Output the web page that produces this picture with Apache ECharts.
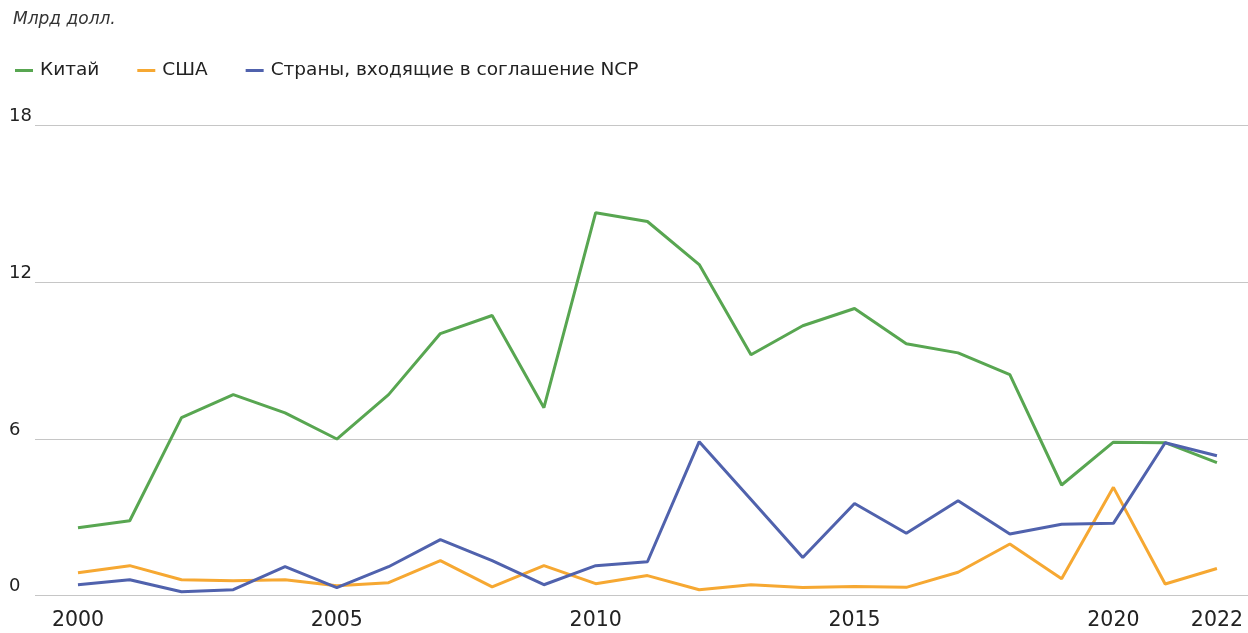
<!DOCTYPE html>
<html lang="ru">
<head>
    <meta charset="utf-8"/>
    <script src="https://cdn.jsdelivr.net/npm/echarts@6/dist/echarts.min.js"></script>
</head>
<body style="margin: 0; background: #fff">
<div id="container" style="width: 1248px;height:633px;"></div>
<script type="text/javascript">
    // данные (млрд долл.)
    var years = [2000, 2001, 2002, 2003, 2004, 2005, 2006, 2007, 2008, 2009, 2010,
        2011, 2012, 2013, 2014, 2015, 2016, 2017, 2018, 2019, 2020, 2021, 2022];
    var china = [2.6, 2.87, 6.82, 7.7, 7.0, 6.0, 7.7, 10.04, 10.73, 7.2, 14.67,
        14.33, 12.68, 9.23, 10.34, 11.0, 9.65, 9.3, 8.47, 4.24, 5.88, 5.86, 5.1];
    var usa = [0.88, 1.15, 0.61, 0.57, 0.61, 0.38, 0.5, 1.34, 0.34, 1.15, 0.46,
        0.77, 0.23, 0.42, 0.31, 0.35, 0.32, 0.9, 1.98, 0.65, 4.15, 0.45, 1.04];
    var ncp = [0.42, 0.61, 0.15, 0.23, 1.11, 0.31, 1.11, 2.15, 1.34, 0.42, 1.15,
        1.3, 5.9, 3.68, 1.46, 3.53, 2.39, 3.64, 2.36, 2.74, 2.77, 5.86, 5.36];
    var xLabels = [2000, 2005, 2010, 2015, 2020, 2022];
    var yTicks = [0, 6, 12, 18];

    function pairs(arr) {
        return years.map(function (y, i) { return [y, arr[i]]; });
    }

    var myChart = echarts.init(document.getElementById('container'));
    var font = '"DejaVu Sans", sans-serif';

    var option = {
        animation: false,
        textStyle: {fontFamily: font},
        title: {
            text: 'Млрд долл.',
            left: 8,
            top: 6,
            textStyle: {fontSize: 17, fontWeight: 'normal', fontStyle: 'italic', color: '#333', fontFamily: font}
        },
        legend: {
            left: 10,
            top: 56,
            icon: 'rect',
            itemWidth: 18,
            itemHeight: 3,
            itemGap: 38,
            textStyle: {fontSize: 18.5, color: '#222', fontFamily: font, padding: [0, 0, 0, 2]},
            data: ['Китай', 'США', 'Страны, входящие в соглашение NCP']
        },
        grid: {left: 35, right: 0, top: 125.7, bottom: 633 - 595.7, containLabel: false},
        xAxis: {
            type: 'value',
            min: 1999.17,
            max: 2022.6,
            axisLine: {show: false},
            axisTick: {show: false},
            splitLine: {show: false},
            axisLabel: {
                customValues: xLabels,
                margin: 14,
                fontSize: 20.5,
                color: '#222',
                fontFamily: font,
                formatter: function (v) { return String(v); }
            }
        },
        yAxis: {
            type: 'value',
            min: yTicks[0],
            max: yTicks[yTicks.length - 1],
            interval: 6,
            axisLine: {show: false},
            axisTick: {show: false},
            splitLine: {lineStyle: {color: '#c6c6c6', width: 1.2}},
            axisLabel: {
                align: 'left',
                verticalAlign: 'bottom',
                margin: 26,
                fontSize: 18,
                color: '#222',
                fontFamily: font,
                padding: [0, 0, 0, 0]
            }
        },
        series: [
            {
                name: 'Китай', type: 'line', data: pairs(china), symbol: 'none',
                lineStyle: {width: 3, color: '#58a651'}, itemStyle: {color: '#58a651'}, z: 3
            },
            {
                name: 'США', type: 'line', data: pairs(usa), symbol: 'none',
                lineStyle: {width: 3, color: '#f6a832'}, itemStyle: {color: '#f6a832'}, z: 2
            },
            {
                name: 'Страны, входящие в соглашение NCP', type: 'line', data: pairs(ncp), symbol: 'none',
                lineStyle: {width: 3, color: '#5062ad'}, itemStyle: {color: '#5062ad'}, z: 4
            }
        ]
    };

    myChart.setOption(option);
</script>
</body>
</html>
